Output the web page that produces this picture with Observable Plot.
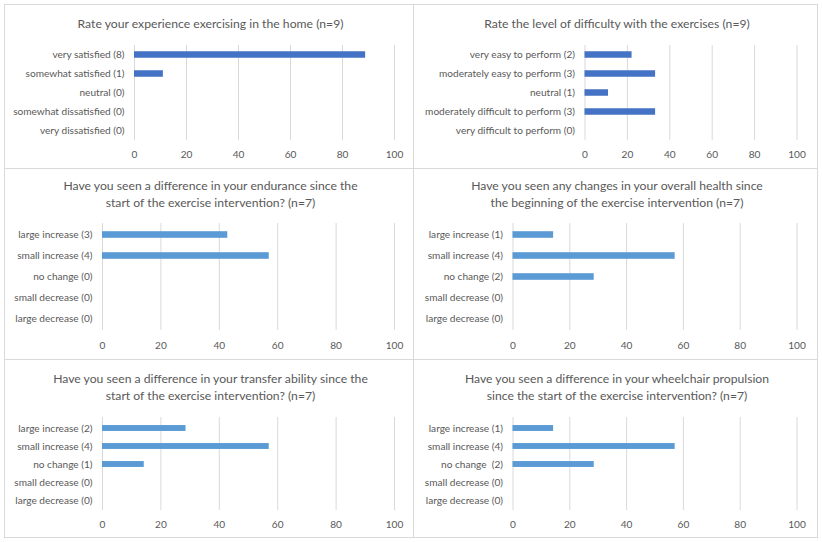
<!DOCTYPE html>
<html>
<head>
<meta charset="utf-8">
<script src="https://cdn.jsdelivr.net/npm/d3@7"></script>
<script src="https://cdn.jsdelivr.net/npm/@observablehq/plot@0.6"></script>
<style>
  html, body { margin: 0; padding: 0; background: #fff; }
  #wrap { position: relative; width: 822px; height: 542px; overflow: hidden; background: #fff; font-family: Lato, "Open Sans", sans-serif; }
  .panel { position: absolute; border: 1px solid #d9d9d9; box-sizing: border-box; }
  .title { position: absolute; text-align: center; color: #595959; font-size: 12.2px; line-height: 17px; white-space: nowrap; }
  .chart { position: absolute; }
  .chart text { white-space: pre; }
</style>
</head>
<body>
<div id="wrap"></div>
<script>
// ---------- data ----------
const xTicks = [0, 20, 40, 60, 80, 100];

const experienceTitle = ["Rate your experience exercising in the home (n=9)"];
const experienceLabels = ["very satisfied (8)", "somewhat satisfied (1)", "neutral (0)", "somewhat dissatisfied (0)", "very dissatisfied (0)"];
const experienceValues = [88.9, 11.1, 0, 0, 0];

const difficultyTitle = ["Rate the level of difficulty with the exercises (n=9)"];
const difficultyLabels = ["very easy to perform (2)", "moderately easy to perform (3)", "neutral (1)", "moderately difficult to perform (3)", "very difficult to perform (0)"];
const difficultyValues = [22.2, 33.3, 11.1, 33.3, 0];

const enduranceTitle = ["Have you seen a difference in your endurance since the", "start of the exercise intervention? (n=7)"];
const enduranceLabels = ["large increase (3)", "small increase (4)", "no change (0)", "small decrease (0)", "large decrease (0)"];
const enduranceValues = [42.9, 57.1, 0, 0, 0];

const healthTitle = ["Have you seen any changes in your overall health since", "the beginning of the exercise intervention (n=7)"];
const healthLabels = ["large increase (1)", "small increase (4)", "no change (2)", "small decrease (0)", "large decrease (0)"];
const healthValues = [14.3, 57.1, 28.6, 0, 0];

const transferTitle = ["Have you seen a difference in your transfer ability since the", "start of the exercise intervention? (n=7)"];
const transferLabels = ["large increase (2)", "small increase (4)", "no change (1)", "small decrease (0)", "large decrease (0)"];
const transferValues = [28.6, 57.1, 14.3, 0, 0];

const propulsionTitle = ["Have you seen a difference in your wheelchair propulsion", "since the start of the exercise intervention? (n=7)"];
const propulsionLabels = ["large increase (1)", "small increase (4)", "no change  (2)", "small decrease (0)", "large decrease (0)"];
const propulsionValues = [14.3, 57.1, 28.6, 0, 0];

// ---------- layout (page pixels) ----------
const panels = [
  {title: experienceTitle, labels: experienceLabels, values: experienceValues, color: "#4472C4",
   left: 4, top: 4, width: 410, height: 165, titleY: 23, x0: 134, x1: 394, gTop: 45, gBottom: 140, barH: 6.5, tickGap: 10},
  {title: difficultyTitle, labels: difficultyLabels, values: difficultyValues, color: "#4472C4",
   left: 413, top: 4, width: 405, height: 165, titleY: 23, x0: 584.5, x1: 796.5, gTop: 45, gBottom: 140, barH: 6.5, tickGap: 10},
  {title: enduranceTitle, labels: enduranceLabels, values: enduranceValues, color: "#5B9BD5",
   left: 4, top: 168, width: 410, height: 192, titleY: 185, x0: 102, x1: 394, gTop: 223, gBottom: 330, barH: 7, tickGap: 11},
  {title: healthTitle, labels: healthLabels, values: healthValues, color: "#5B9BD5",
   left: 413, top: 168, width: 405, height: 192, titleY: 185, x0: 512.5, x1: 796.5, gTop: 223, gBottom: 330, barH: 7, tickGap: 11},
  {title: transferTitle, labels: transferLabels, values: transferValues, color: "#5B9BD5",
   left: 4, top: 359, width: 410, height: 179, titleY: 378, x0: 102, x1: 394, gTop: 417, gBottom: 510, barH: 6.5, tickGap: 10},
  {title: propulsionTitle, labels: propulsionLabels, values: propulsionValues, color: "#5B9BD5",
   left: 413, top: 359, width: 405, height: 179, titleY: 378, x0: 512.5, x1: 796.5, gTop: 417, gBottom: 510, barH: 6.5, tickGap: 10}
];

const wrap = document.getElementById("wrap");

for (const p of panels) {
  const box = document.createElement("div");
  box.className = "panel";
  Object.assign(box.style, {left: p.left + "px", top: p.top + "px", width: p.width + "px", height: p.height + "px"});
  wrap.appendChild(box);

  const t = document.createElement("div");
  t.className = "title";
  t.innerHTML = p.title.join("<br>");
  Object.assign(t.style, {left: (p.left + 1.5) + "px", width: p.width + "px", top: (p.titleY - 8.5) + "px"});
  wrap.appendChild(t);

  const data = p.labels.map((label, i) => ({label, value: p.values[i]}));
  const mTop = 4, mBottom = 26;
  const step = (p.gBottom - p.gTop) / p.labels.length;
  const inset = (step - p.barH) / 2;

  const chart = Plot.plot({
    width: p.width,
    height: (p.gBottom - p.gTop) + mTop + mBottom,
    marginTop: mTop,
    marginBottom: mBottom,
    marginLeft: p.x0 - p.left,
    marginRight: p.left + p.width - p.x1,
    style: {fontFamily: "Lato, 'Open Sans', sans-serif", fontSize: "10.1px", color: "#595959", background: "transparent", overflow: "visible"},
    x: {domain: [0, 100]},
    y: {domain: p.labels, padding: 0},
    marks: [
      Plot.gridX(xTicks, {stroke: "#d9d9d9", strokeOpacity: 1, strokeWidth: 1}),
      Plot.barX(data, {x: "value", y: "label", fill: p.color, insetTop: inset, insetBottom: inset}),
      Plot.axisX({ticks: xTicks, tickSize: 0, tickPadding: p.tickGap, label: null}),
      Plot.axisY({tickSize: 0, tickPadding: 10, label: null})
    ]
  });
  chart.classList.add("chart");
  Object.assign(chart.style, {left: p.left + "px", top: (p.gTop - mTop) + "px"});
  wrap.appendChild(chart);
}
</script>
</body>
</html>
